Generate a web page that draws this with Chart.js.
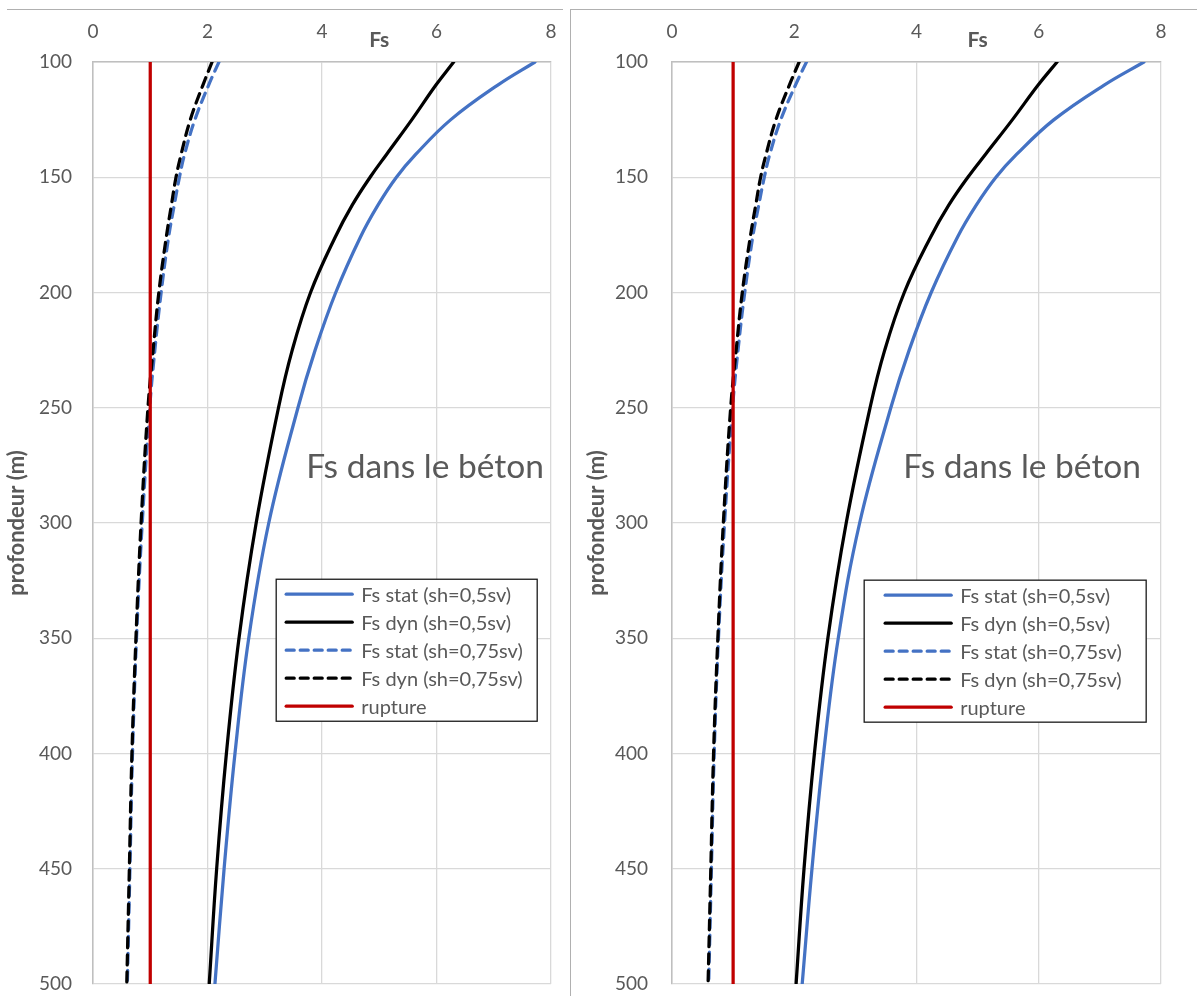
<!DOCTYPE html>
<html>
<head>
<meta charset="utf-8">
<script src="https://cdn.jsdelivr.net/npm/chart.js@4.4.0/dist/chart.umd.min.js"></script>
<style>
  body { margin: 0; background: #fff; width: 1197px; height: 996px; position: relative; overflow: hidden; }
  .wrap { position: absolute; top: 0; height: 996px; }
  #wrapLeft { left: 0; width: 565px; }
  #wrapRight { left: 571px; width: 626px; }
  .line { position: absolute; background: #b0b0b0; }
</style>
</head>
<body>
<div class="wrap" id="wrapLeft"><canvas id="chartLeft" width="565" height="996"></canvas></div>
<div class="wrap" id="wrapRight"><canvas id="chartRight" width="626" height="996"></canvas></div>
<div class="line" style="left:7px;top:9px;width:556px;height:1px;"></div>
<div class="line" style="left:570px;top:9px;width:627px;height:1px;"></div>
<div class="line" style="left:570px;top:9px;width:1px;height:987px;"></div>
<script>
// depth (m) and safety factor values
var depths    = [100, 110, 125, 140, 150, 162, 176, 200, 225, 250, 300, 350, 400, 450, 500];
var fsStat05  = [7.72, 7.07, 6.25, 5.64, 5.30, 4.98, 4.67, 4.24, 3.88, 3.58, 3.07, 2.72, 2.48, 2.29, 2.13];
var fsDyn05   = [6.30, 5.99, 5.57, 5.13, 4.84, 4.53, 4.23, 3.80, 3.48, 3.24, 2.85, 2.55, 2.33, 2.16, 2.03];
var fsStat075 = [2.20, 2.02, 1.78, 1.60, 1.51, 1.42, 1.32, 1.19, 1.08, 0.99, 0.86, 0.76, 0.69, 0.645, 0.60];
var fsDyn075  = [2.08, 1.92, 1.70, 1.54, 1.45, 1.37, 1.28, 1.15, 1.05, 0.96, 0.84, 0.75, 0.68, 0.635, 0.59];
var rupture   = [1, 1, 1, 1, 1, 1, 1, 1, 1, 1, 1, 1, 1, 1, 1];

var fsTicks = [0, 2, 4, 6, 8];
var depthTicks = [100, 150, 200, 250, 300, 350, 400, 450, 500];

var seriesNames = ['Fs stat (sh=0,5sv)', 'Fs dyn (sh=0,5sv)', 'Fs stat (sh=0,75sv)', 'Fs dyn (sh=0,75sv)', 'rupture'];

var BLUE = '#4472c4';
var BLACK = '#000000';
var RED = '#c00000';
var GREY_TEXT = '#595959';
var FONT = 'Lato';

function toPoints(values) {
    return values.map(function (v, i) {
        return { x: v, y: depths[i] };
    });
}

function buildDatasets() {
    var dash = [10, 7];
    return [
        { label: seriesNames[0], data: toPoints(fsStat05), borderColor: BLUE, order: 5 },
        { label: seriesNames[1], data: toPoints(fsDyn05), borderColor: BLACK, order: 4 },
        { label: seriesNames[2], data: toPoints(fsStat075), borderColor: BLUE, borderDash: dash, order: 3 },
        { label: seriesNames[3], data: toPoints(fsDyn075), borderColor: BLACK, borderDash: dash, order: 2 },
        { label: seriesNames[4], data: toPoints(rupture), borderColor: RED, order: 1 }
    ].map(function (d) {
        d.borderWidth = 3.25;
        d.pointRadius = 0;
        d.fill = false;
        d.borderCapStyle = 'round';
        d.tension = 0.4;
        return d;
    });
}

// axis title "Fs", the note and the boxed legend, all placed from the chart area
var panelDecor = {
    id: 'panelDecor',
    afterDatasetsDraw: function (chart, args, opts) {
        var ctx = chart.ctx;
        var a = chart.chartArea;
        ctx.save();
        ctx.fillStyle = GREY_TEXT;
        ctx.textAlign = 'center';
        ctx.textBaseline = 'middle';
        ctx.font = 'bold 21px ' + FONT;
        ctx.fillText('Fs', chart.scales.x.getPixelForValue(5), a.top - 22);

        ctx.font = '33.5px ' + FONT;
        ctx.fillText('Fs dans le béton', a.left + a.width * opts.noteX, a.top + a.height * opts.noteY);

        var bx = a.left + a.width * opts.legendX;
        var by = a.top + a.height * opts.legendY;
        var rowH = 28;
        var n = chart.data.datasets.length;
        ctx.fillStyle = '#ffffff';
        ctx.fillRect(bx, by, opts.legendW, rowH * n + 2);
        ctx.strokeStyle = '#1a1a1a';
        ctx.lineWidth = 1.3;
        ctx.strokeRect(bx, by, opts.legendW, rowH * n + 2);

        ctx.textAlign = 'left';
        ctx.font = '20px ' + FONT;
        chart.data.datasets.forEach(function (ds, i) {
            var yy = by + 15 + i * rowH;
            ctx.beginPath();
            ctx.strokeStyle = ds.borderColor;
            ctx.lineWidth = 3.25;
            ctx.lineCap = 'round';
            ctx.setLineDash(ds.borderDash ? [8, 6] : []);
            ctx.moveTo(bx + opts.padL, yy);
            ctx.lineTo(bx + opts.padL + 66, yy);
            ctx.stroke();
            ctx.setLineDash([]);
            ctx.fillStyle = GREY_TEXT;
            ctx.fillText(ds.label, bx + opts.padL + 75, yy + 1);
        });
        ctx.restore();
    }
};

function noEdgePadding(scale) {
    scale.paddingLeft = 0;
    scale.paddingRight = 0;
    scale.paddingTop = 0;
    scale.paddingBottom = 0;
}

function drawDepthChart(canvasId, layout) {
    var element = document.getElementById(canvasId);
    if (!element) {
        return;
    }

    var config = {
        type: 'line',
        data: { datasets: buildDatasets() },
        plugins: [panelDecor],
        options: {
            responsive: false,
            animation: false,
            indexAxis: 'y',
            layout: {
                padding: { left: 0, top: 0, right: layout.padRight, bottom: 12 }
            },
            plugins: {
                legend: { display: false },
                tooltip: { enabled: false },
                panelDecor: layout.decor
            },
            scales: {
                x: {
                    type: 'linear',
                    position: 'top',
                    min: 0,
                    max: 8,
                    afterFit: function (scale) {
                        scale.height = 62;
                        noEdgePadding(scale);
                    },
                    afterBuildTicks: function (scale) {
                        scale.ticks = fsTicks.map(function (v) { return { value: v }; });
                    },
                    grid: { color: '#d9d9d9', lineWidth: 1.3, drawTicks: false },
                    border: { color: '#bfbfbf', width: 1.5 },
                    ticks: {
                        padding: 19,
                        color: GREY_TEXT,
                        font: { family: FONT, size: 19 }
                    }
                },
                y: {
                    type: 'linear',
                    reverse: true,
                    min: 100,
                    max: 500,
                    afterFit: function (scale) {
                        scale.width = layout.axisWidth;
                        noEdgePadding(scale);
                    },
                    afterBuildTicks: function (scale) {
                        scale.ticks = depthTicks.map(function (v) { return { value: v }; });
                    },
                    grid: { color: '#d9d9d9', lineWidth: 1.3, drawTicks: false },
                    border: { color: '#bfbfbf', width: 1.5 },
                    ticks: {
                        padding: layout.tickPad,
                        color: GREY_TEXT,
                        font: { family: FONT, size: 19 }
                    },
                    title: {
                        display: true,
                        text: 'profondeur (m)',
                        color: GREY_TEXT,
                        font: { family: FONT, size: 22, weight: 'bold' },
                        padding: { top: layout.titlePad, bottom: 0 }
                    }
                }
            }
        }
    };

    new Chart(element, config);
}

drawDepthChart('chartLeft', {
    axisWidth: 93, tickPad: 21, titlePad: 4, padRight: 14,
    decor: { noteX: 0.725, noteY: 0.44, legendX: 0.40, legendY: 0.561, legendW: 261, padL: 10 }
});
drawDepthChart('chartRight', {
    axisWidth: 101, tickPad: 24, titlePad: 13, padRight: 36,
    decor: { noteX: 0.716, noteY: 0.44, legendX: 0.393, legendY: 0.562, legendW: 282, padL: 21 }
});
</script>
</body>
</html>
